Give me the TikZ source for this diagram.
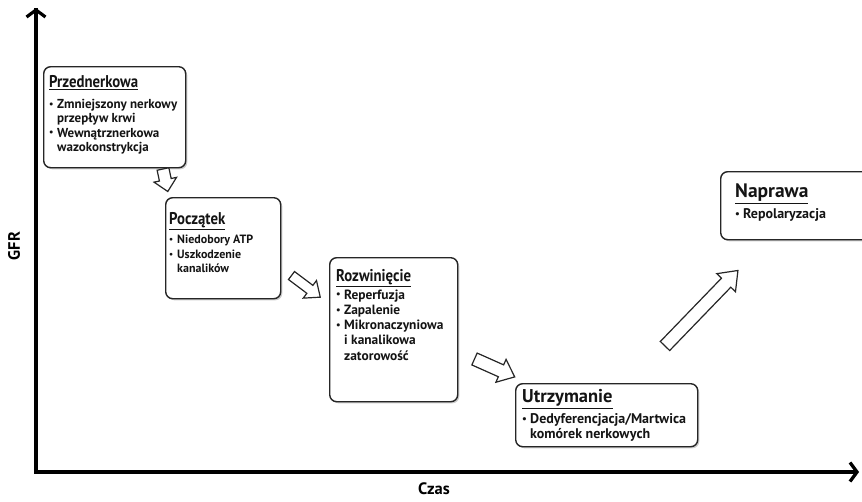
\documentclass[tikz,border=0pt]{standalone}
\usepackage{fontspec}
\setmainfont{PT Sans}
\newfontfamily\condfont[FakeStretch=0.87]{PT Sans}
\usetikzlibrary{arrows.meta,shadows}
\newcommand\bul{\makebox[8pt][l]{\raisebox{0.1em}{\scalebox{0.75}{\textbullet}}}}
\newcommand\bulind{\hspace*{8pt}}
\newcommand\ttlc[1]{{\condfont\bfseries\fontsize{17}{17}\selectfont\underline{#1}}}
\newcommand\ttlw[2]{{\bfseries\fontsize{#1}{#1}\selectfont\underline{#2}}}
\newcommand\blkarrow[7]{%
  \begin{scope}[shift={(#1,#2)},rotate=#3]
    \draw[barrow] (0,{#5/2}) -- ({#4-#7},{#5/2}) -- ({#4-#7},{#6/2}) -- (#4,0)
      -- ({#4-#7},{-#6/2}) -- ({#4-#7},{-#5/2}) -- (0,{-#5/2}) -- cycle;
  \end{scope}}
\tikzset{
  box/.style={draw=black!85, line width=1.4pt, rounded corners=7pt, fill=white,
    anchor=north west, inner sep=0pt,
    drop shadow={shadow xshift=1.6pt, shadow yshift=-1.6pt, opacity=0.4}},
  txt/.style={anchor=north west, inner sep=0pt, align=left, text=black!92,
    font=\bfseries\fontsize{13}{14.3}\selectfont},
  barrow/.style={draw=black!85, line width=1.2pt, fill=white, line join=miter},
  axisline/.style={line width=3.2pt, -{Straight Barb[length=7pt,width=19pt]}},
  axlabel/.style={font=\bfseries\fontsize{16.5}{16.5}\selectfont, inner sep=0pt}
}
\begin{document}
\begin{tikzpicture}[x=1pt,y=-1pt]
\useasboundingbox (0,0) rectangle (862,501);
\clip (0,0) rectangle (862,501);

% axes
\coordinate (O) at (36,472);
\coordinate (ytop) at (36,8);
\coordinate (xend) at (859,472);
\draw[axisline, black!30, xshift=1.5pt, yshift=-1.5pt] (ytop) -- (O) -- (xend);
\draw[axisline, line join=miter] (ytop) -- (O) -- (xend);
\draw[axisline, black] (O) -- (ytop);
\node[axlabel, rotate=90] (gfr) at (14,246) {GFR};
\node[axlabel] (czas) at (434,489) {Czas};

% boxes
\node[box, minimum width=142pt, minimum height=101pt] (b1) at (43,66) {};
\node[box, minimum width=115pt, minimum height=101pt] (b2) at (165,197) {};
\node[box, minimum width=128pt, minimum height=144pt] (b3) at (329,257) {};
\node[box, minimum width=182pt, minimum height=63pt] (b4) at (515,383) {};
\node[box, minimum width=170pt, minimum height=68pt] (b5) at (720,171) {};

% texts
\node[txt] (t1) at (49,75.5) {\ttlc{Przednerkowa}\\[6.5pt]
  \bul Zmniejszony nerkowy\\
  \bulind przepływ krwi\\
  \bul Wewnątrznerkowa\\
  \bulind wazokonstrykcja};
\node[txt, font=\bfseries\fontsize{12}{14.5}\selectfont] (t2) at (169,212.5) {\ttlc{Początek}\\[4.5pt]
  \bul Niedobory ATP\\
  \bul Uszkodzenie\\
  \bulind kanalików};
\node[txt, font=\bfseries\fontsize{13.4}{15.3}\selectfont] (t3) at (336,269) {\ttlc{Rozwinięcie}\\[2.5pt]
  \bul Reperfuzja\\
  \bul Zapalenie\\
  \bul Mikronaczyniowa\\
  \bulind i kanalikowa\\
  \bulind zatorowość};
\node[txt, font=\bfseries\fontsize{14}{15}\selectfont] (t4) at (522,389.5) {\ttlw{18.5}{Utrzymanie}\\[4pt]
  \bul Dedyferencjacja/Martwica\\
  \bulind komórek nerkowych};
\node[txt, font=\bfseries\fontsize{14}{15}\selectfont] (t5) at (735,184) {\ttlw{19.5}{Naprawa}\\[4pt]
  \bul Repolaryzacja};

% block arrows between phases
\blkarrow{163}{169}{-78}{23}{12}{23}{12}
\blkarrow{291.5}{275.5}{-37}{36}{10}{22}{13}
\blkarrow{474.5}{359}{-24}{44}{13}{25}{15}
\blkarrow{665}{346}{46}{105}{13}{26}{17}
\end{tikzpicture}
\end{document}
